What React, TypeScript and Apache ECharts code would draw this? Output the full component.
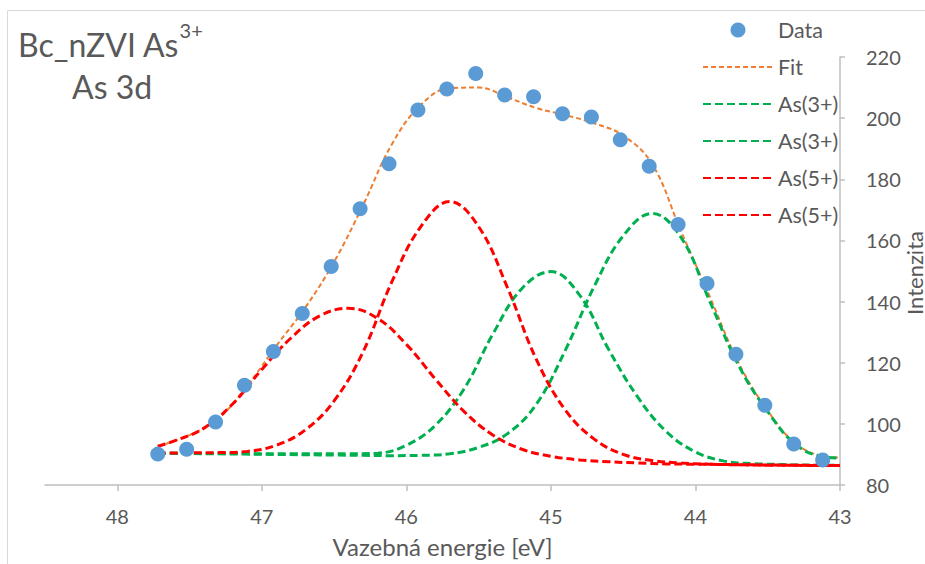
import React, { useEffect, useRef } from "react";
import * as echarts from "echarts";

// Measured points
const dataEnergy = [47.72, 47.52, 47.32, 47.12, 46.92, 46.72, 46.52, 46.32, 46.12, 45.92, 45.72, 45.52, 45.32, 45.12, 44.92, 44.72, 44.52, 44.32, 44.12, 43.92, 43.72, 43.52, 43.32, 43.12];
const dataIntensity = [90.1, 91.7, 100.6, 112.6, 123.7, 136.1, 151.5, 170.4, 185.1, 202.7, 209.5, 214.6, 207.6, 207.0, 201.4, 200.4, 192.9, 184.3, 165.2, 145.9, 122.8, 106.1, 93.4, 88.2];

// Fit / component curves, two sampling grids
const energyA = [47.72, 47.5, 47.3, 47.1, 46.9, 46.7, 46.5, 46.3, 46.1, 45.9, 45.7, 45.5, 45.3, 45.1, 44.9, 44.7, 44.5, 44.3, 44.1, 43.9, 43.7, 43.5, 43.3, 43.1, 43.0];
const energyB = [47.72, 47.6, 47.4, 47.2, 47.0, 46.8, 46.6, 46.4, 46.2, 46.0, 45.8, 45.6, 45.4, 45.2, 45.0, 44.8, 44.6, 44.4, 44.2, 44.0, 43.8, 43.6, 43.4, 43.2, 43.0];

const fitIntensity = [92.7, 96.3, 101.8, 112.5, 125.5, 138.0, 153.0, 171.5, 191.5, 204.3, 209.8, 210.0, 206.8, 203.3, 201.0, 198.3, 194.3, 185.0, 163.0, 141.5, 119.8, 104.3, 93.3, 89.3, 89.0];
// grid B
const as3aIntensity = [90.4, 90.4, 90.3, 90.3, 90.2, 90.2, 90.2, 90.2, 90.4, 93.0, 99.5, 111.5, 129.5, 144.3, 149.8, 142.0, 124.3, 108.8, 97.4, 90.8, 87.8, 87.0, 86.7, 86.5, 86.5];
// grid A
const as3bIntensity = [90.4, 90.3, 90.2, 90.1, 90.0, 89.9, 89.8, 89.7, 89.6, 89.7, 90.2, 92.3, 96.8, 106.5, 124.1, 145.0, 161.5, 168.8, 161.0, 140.0, 119.0, 104.0, 93.0, 89.1, 88.8];
// grid B
const as5aIntensity = [92.7, 94.5, 98.6, 106.6, 117.8, 128.0, 135.3, 137.8, 134.5, 126.0, 114.7, 104.0, 96.3, 91.7, 89.4, 88.2, 87.6, 87.2, 86.9, 86.8, 86.7, 86.6, 86.5, 86.4, 86.4];
// grid A
const as5bIntensity = [90.4, 90.5, 90.6, 91.0, 93.0, 98.0, 107.5, 123.5, 146.5, 164.5, 172.7, 164.5, 144.5, 121.0, 104.5, 95.0, 90.0, 88.0, 87.2, 86.8, 86.6, 86.5, 86.5, 86.4, 86.4];

const xTicks = [43, 44, 45, 46, 47, 48];

const FONT = "Lato";
const TXT = "#595959";
const AXIS = "#BFBFBF";

const zip = (xs: number[], ys: number[]) => xs.map((x, i) => [x, ys[i]]);

export default function App() {
  const ref = useRef<HTMLDivElement>(null);
  useEffect(() => {
    document.body.style.margin = "0";
    if (!ref.current) return;
    const chart = echarts.init(ref.current, null, { renderer: "svg" });
    const lineSeries = (name: string, xs: number[], ys: number[], color: string, width: number, dash: number[]) => ({
      name,
      type: "line",
      data: zip(xs, ys),
      smooth: 0.4,
      symbol: "none",
      showSymbol: false,
      lineStyle: { color, width, type: dash },
      itemStyle: { color },
      z: 2,
    });
    const hiddenSym = { color: "rgba(0,0,0,0)", opacity: 0, borderWidth: 0 };
    chart.setOption({
      animation: false,
      backgroundColor: "#ffffff",
      grid: { left: 45, right: 85, top: 57, bottom: 79, containLabel: false, outerBoundsMode: "none" },
      xAxis: {
        type: "value",
        inverse: true,
        min: 43,
        max: 48.5,
        interval: 1,
        name: "Vazebná energie [eV]",
        nameLocation: "middle",
        nameGap: 49,
        nameTextStyle: { fontFamily: FONT, fontSize: 24, color: TXT },
        axisLine: { show: true, lineStyle: { color: AXIS, width: 1.5 } },
        axisTick: { show: true, length: 6, lineStyle: { color: AXIS, width: 1.5 }, customValues: xTicks },
        axisLabel: { fontFamily: FONT, fontSize: 20, color: TXT, margin: 21, customValues: xTicks },
        splitLine: { show: false },
      },
      yAxis: {
        type: "value",
        position: "right",
        min: 80,
        max: 220,
        interval: 20,
        axisLine: { show: true, lineStyle: { color: AXIS, width: 1.5 } },
        axisTick: { show: true, length: 5, lineStyle: { color: AXIS, width: 1.5 } },
        axisLabel: { fontFamily: FONT, fontSize: 20, color: TXT, margin: 26, align: "left" },
        splitLine: { show: false },
      },
      legend: {
        orient: "vertical",
        left: 697,
        top: 14,
        itemWidth: 70,
        itemHeight: 15,
        itemGap: 15,
        formatter: (n: string) => n.trim(),
        textStyle: { fontFamily: FONT, fontSize: 21.5, color: TXT, lineHeight: 20 },
        data: [
          { name: "Data" },
          { name: "Fit", itemStyle: hiddenSym },
          { name: "As(3+)", itemStyle: hiddenSym },
          { name: "As(3+) ", itemStyle: hiddenSym },
          { name: "As(5+)", itemStyle: hiddenSym },
          { name: "As(5+) ", itemStyle: hiddenSym },
        ],
      },
      graphic: [
        {
          type: "polyline",
          shape: { points: [[7.5, 564], [7.5, 10.5], [925, 10.5]] },
          style: { stroke: "#D9D9D9", fill: null, lineWidth: 1 },
          silent: true,
        },
        {
          type: "text",
          left: 18,
          top: 16,
          style: {
            text: "{a|Bc_nZVI As}{s|3+}",
            rich: {
              a: { fontFamily: FONT, fontSize: 32, fill: TXT, lineHeight: 44, verticalAlign: "bottom" },
              s: { fontFamily: FONT, fontSize: 20, fill: TXT, lineHeight: 22, verticalAlign: "top", padding: [4, 0, 0, 0] },
            },
          },
        },
        {
          type: "text",
          left: 72,
          top: 70,
          style: { text: "As 3d", fontFamily: FONT, fontSize: 32, fill: TXT },
        },
        {
          type: "text",
          x: 914,
          y: 273,
          rotation: Math.PI / 2,
          style: {
            text: "Intenzita",
            fontFamily: FONT,
            fontSize: 22,
            fill: TXT,
            align: "center",
            verticalAlign: "middle",
          },
        },
      ],
      series: [
        {
          name: "Data",
          type: "scatter",
          data: zip(dataEnergy, dataIntensity),
          symbol: "circle",
          symbolSize: 15,
          itemStyle: { color: "#5B9BD5", opacity: 1 },
          z: 5,
        },
        lineSeries("Fit", energyA, fitIntensity, "#ED7D31", 2, [5, 3]),
        lineSeries("As(3+)", energyB, as3aIntensity, "#00B050", 3, [8, 4]),
        lineSeries("As(3+) ", energyA, as3bIntensity, "#00B050", 3, [8, 4]),
        lineSeries("As(5+)", energyB, as5aIntensity, "#FF0000", 3, [8, 4]),
        lineSeries("As(5+) ", energyA, as5bIntensity, "#FF0000", 3, [8, 4]),
      ],
    });
    return () => chart.dispose();
  }, []);
  return <div ref={ref} style={{ width: 925, height: 564 }} />;
}
